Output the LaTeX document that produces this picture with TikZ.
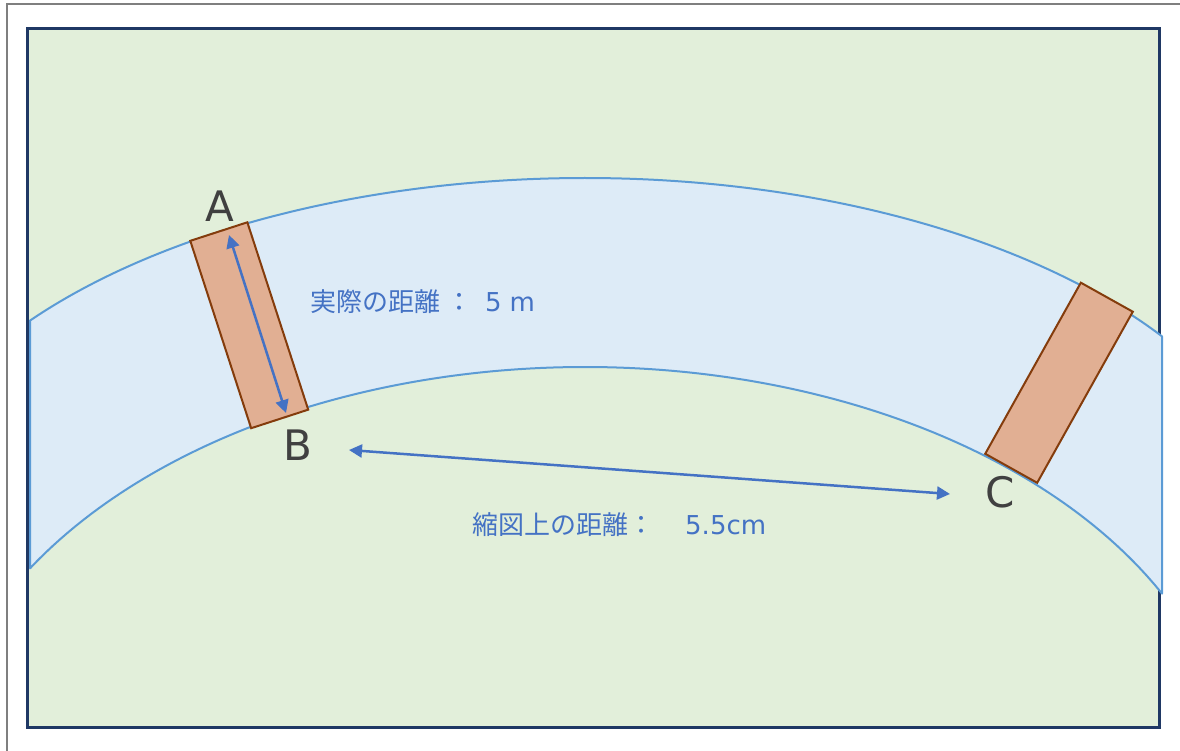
\documentclass[tikz,border=0pt]{standalone}
\usepackage{fontspec}
\setmainfont{Noto Sans CJK JP}
\newfontfamily\latinfont{DejaVu Sans}
\usetikzlibrary{arrows.meta}
\definecolor{grayline}{HTML}{7F7F7F}
\definecolor{fieldfill}{HTML}{E2EFDA}
\definecolor{fieldline}{HTML}{1F3864}
\definecolor{bandfill}{HTML}{DDEBF7}
\definecolor{bandline}{HTML}{5B9BD5}
\definecolor{plankfill}{HTML}{E1AF93}
\definecolor{plankline}{HTML}{843C0C}
\definecolor{arrowblue}{HTML}{4472C4}
\definecolor{labelgray}{HTML}{404040}
\tikzset{
  fieldbox/.style={fill=fieldfill,draw=fieldline,line width=3pt},
  bandshape/.style={fill=bandfill,draw=bandline,line width=2pt,line join=round},
  plank/.style={rectangle,fill=plankfill,draw=plankline,line width=2pt,inner sep=0pt,minimum width=60pt,minimum height=197pt},
  measure/.style={draw=arrowblue,line width=2.5pt,{Triangle[length=13pt,width=13pt]}-{Triangle[length=13pt,width=13pt]}},
  ptlabel/.style={text=labelgray,font=\latinfont\fontsize{42}{50}\selectfont,inner sep=0pt},
  jptext/.style={text=arrowblue,font=\fontsize{26}{31}\selectfont,inner sep=0pt,anchor=west}
}
\begin{document}
\begin{tikzpicture}[x=1pt,y=-1pt]
\useasboundingbox (0,0) rectangle (1180,751);
% outer gray frame
\draw[grayline,line width=2pt] (7,751) -- (7,4) -- (1180,4);
% green field
\path[fieldbox] (27.5,28.5) rectangle (1159.5,727.5);
% river band
\path[bandshape] plot[domain=30:1162,samples=150] (\x,{543-365*sqrt(1-((\x-585)/700)*((\x-585)/700))})
  -- plot[domain=1162:30,samples=150] (\x,{787-420*sqrt(1-((\x-585)/650)*((\x-585)/650))}) -- cycle;
% planks
\node[plank,rotate=18] (plankAB) at (249.25,325.25) {};
\node[plank,rotate=-29.2,minimum width=59.5pt,minimum height=196pt] (plankC) at (1059,382.75) {};
% labels
\node[ptlabel] (labA) at (220,206) {A};
\node[ptlabel] (labB) at (298,445) {B};
\node[ptlabel] (labC) at (1000,492) {C};
% arrows
\coordinate (realtop) at (229,235);
\coordinate (realbot) at (286,413);
\coordinate (mapleft) at (349,450);
\coordinate (mapright) at (950,494);
\draw[measure] (realtop) -- (realbot);
\draw[measure] (mapleft) -- (mapright);
% texts
\node[jptext] (realtxt) at (310,302) {実際の距離\hspace{6pt}：\hspace{13pt}{\latinfont 5}\hspace{8pt}{\latinfont m}};
\node[jptext] (maptxt) at (472,525) {縮図上の距離：\hspace{31pt}{\latinfont 5.5cm}};
\end{tikzpicture}
\end{document}
